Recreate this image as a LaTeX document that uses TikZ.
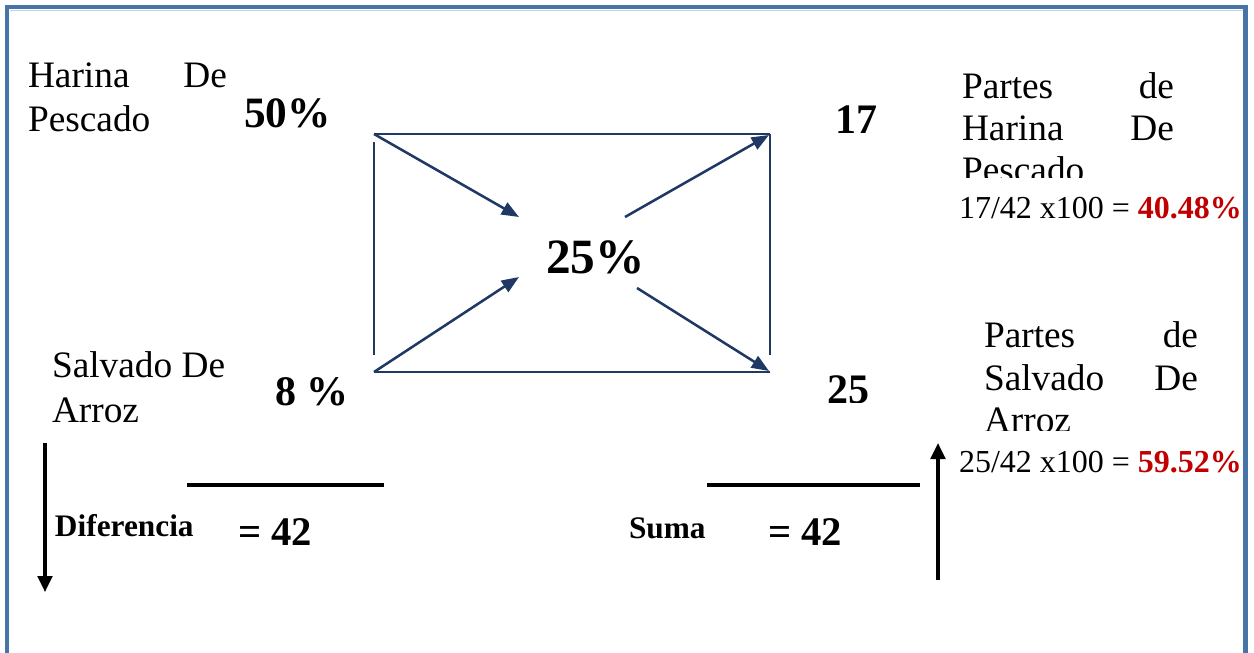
\documentclass[tikz,border=0pt]{standalone}
\usepackage{fontspec}
\setmainfont{Liberation Serif}
\usetikzlibrary{arrows.meta}
\definecolor{frameblue}{RGB}{71,116,166}
\definecolor{framelight}{RGB}{190,210,232}
\definecolor{navy}{RGB}{31,56,100}
\definecolor{darkred}{RGB}{192,0,0}
\begin{document}
\begin{tikzpicture}[x=0.75pt,y=-0.75pt,
  lbl/.style={inner sep=0pt,outer sep=0pt,font=\fontsize{28}{33}\selectfont},
  big/.style={inner sep=0pt,outer sep=0pt,font=\bfseries\fontsize{31.5}{36}\selectfont},
  small/.style={inner sep=0pt,outer sep=0pt,font=\bfseries\fontsize{23.5}{28}\selectfont},
  formula/.style={inner sep=0pt,outer sep=0pt,font=\fontsize{24}{28}\selectfont},
  navyline/.style={draw=navy,line width=1.9pt},
  navyarrow/.style={draw=navy,line width=1.9pt,-{Triangle[length=13pt,width=10pt]}},
  blackarrow/.style={draw=black,line width=2.4pt,-{Triangle[length=12pt,width=11pt]}},
  barline/.style={draw=black,line width=3pt}]
\useasboundingbox (0,0) rectangle (1254,653);
% frame
\draw[frameblue,line width=3.6pt] (7,653) -- (7,7) -- (1245.5,7) -- (1245.5,653);
\draw[framelight,line width=0.8pt] (10,10.5) -- (1243,10.5);
% left labels
\node[lbl,anchor=base west] (h1) at (28,87) {Harina};
\node[lbl,anchor=base east] (h1b) at (227,87) {De};
\node[lbl,anchor=base west] (h2) at (28,131) {Pescado};
\node[lbl,anchor=base west,font=\bfseries\fontsize{32.5}{36}\selectfont] (p50) at (244,127) {50\%};
\node[lbl,anchor=base west] (s1) at (52,377) {Salvado De};
\node[lbl,anchor=base west] (s2) at (52,422) {Arroz};
\node[big,anchor=base west] (p8) at (275,405) {8 \%};
% center
\node[inner sep=0pt,anchor=base west,font=\bfseries\fontsize{37}{40}\selectfont] (c25) at (546,273) {25\%};
\node[big,anchor=base west] (n17) at (835,133) {17};
\begin{scope}
\clip (800,360) rectangle (900,402);
\node[big,anchor=base west] (n25) at (827,403) {25};
\end{scope}
% rectangle
\coordinate (tl) at (374,134);
\coordinate (tr) at (770,134);
\coordinate (bl) at (374,372);
\coordinate (br) at (770,372);
\coordinate (lt) at (374,142);
\coordinate (lb) at (374,355);
\coordinate (rt) at (770,134);
\coordinate (rb) at (770,355);
\draw[navyline] (tl) -- (tr);
\draw[navyline] (bl) -- (br);
\draw[navyline] (lt) -- (lb);
\draw[navyline] (rt) -- (rb);
\coordinate (a1e) at (519,217);
\coordinate (a2e) at (519,277);
\coordinate (a3s) at (625,217);
\coordinate (a3e) at (769,135);
\coordinate (a4s) at (637,288);
\coordinate (a4e) at (769,371);
\draw[navyarrow] (tl) -- (a1e);
\draw[navyarrow] (bl) -- (a2e);
\draw[navyarrow] (a3s) -- (a3e);
\draw[navyarrow] (a4s) -- (a4e);
% right labels
\node[lbl,anchor=base west] (r1) at (962,98) {Partes};
\node[lbl,anchor=base east] (r1b) at (1174,98) {de};
\node[lbl,anchor=base west] (r2) at (962,140) {Harina};
\node[lbl,anchor=base east] (r2b) at (1174,140) {De};
\begin{scope}
\clip (950,150) rectangle (1200,177);
\node[lbl,anchor=base west] (r3) at (962,182) {Pescado};
\end{scope}
\node[formula,anchor=base west] (f1) at (959,218) {17/42 x100 = \textbf{\textcolor{darkred}{40.48\%}}};
\node[lbl,anchor=base west] (q1) at (984,347) {Partes};
\node[lbl,anchor=base east] (q1b) at (1198,347) {de};
\node[lbl,anchor=base west] (q2) at (984,390) {Salvado};
\node[lbl,anchor=base east] (q2b) at (1198,390) {De};
\begin{scope}
\clip (970,400) rectangle (1210,430);
\node[lbl,anchor=base west] (q3) at (984,432) {Arroz};
\end{scope}
\node[formula,anchor=base west] (f2) at (959,472) {25/42 x100 = \textbf{\textcolor{darkred}{59.52\%}}};
% bottom
\coordinate (d1) at (45,443);
\coordinate (d2) at (45,592);
\draw[blackarrow] (d1) -- (d2);
\coordinate (u1) at (938,580);
\coordinate (u2) at (938,443);
\draw[blackarrow] (u1) -- (u2);
\coordinate (l1a) at (187,485);
\coordinate (l1b) at (384,485);
\draw[barline] (l1a) -- (l1b);
\coordinate (l2a) at (707,485);
\coordinate (l2b) at (920,485);
\draw[barline] (l2a) -- (l2b);
\node[small,anchor=base west] (dif) at (55,536) {Diferencia};
\node[big,anchor=base west,font=\bfseries\fontsize{30.5}{34}\selectfont] (e1) at (238,545) {= 42};
\node[small,anchor=base west] (suma) at (629,538) {Suma};
\node[big,anchor=base west,font=\bfseries\fontsize{30.5}{34}\selectfont] (e2) at (768,545) {= 42};
\end{tikzpicture}
\end{document}
